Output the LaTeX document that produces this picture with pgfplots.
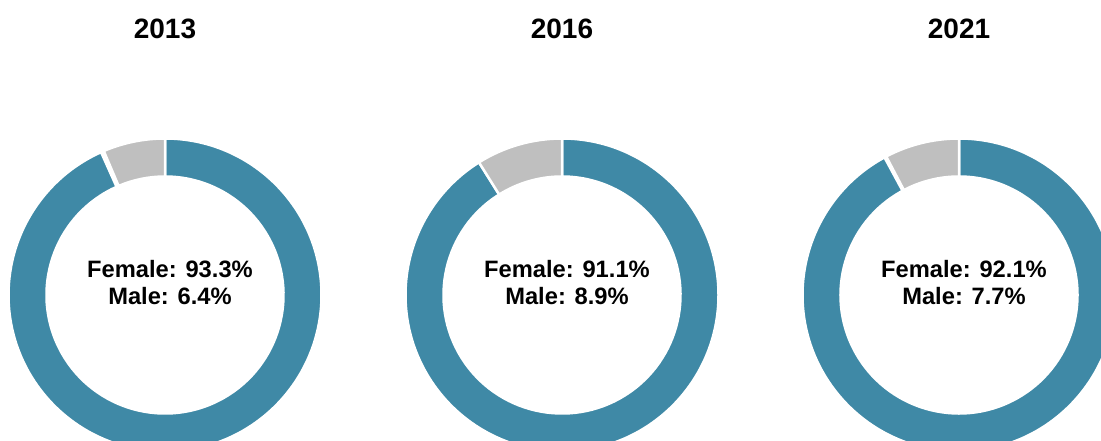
\documentclass[border=0pt]{standalone}
\usepackage{pgfplots}
\usepackage{pgfplotstable}
\pgfplotsset{compat=1.18}
\usepackage{fontspec}
\setmainfont{Liberation Sans}

\definecolor{femblue}{HTML}{3F89A6}
\definecolor{malegray}{HTML}{BFBFBF}

% share of female / male staff, one donut per year
\pgfplotstableread{
year female male cx
2013 93.3 6.4 165
2016 91.1 8.9 562
2021 92.1 7.7 959
}\donuts

% #1 centre x, #2 female, #3 male, #4 year
\newcommand\donut[4]{%
  \fill[femblue, draw=white, line width=2.5pt, shift={(axis cs:#1,146)}]
    (90:156.5pt) arc[start angle=90, end angle={90-3.6*#2}, radius=156.5pt]
    -- ({90-3.6*#2}:118.5pt) arc[start angle={90-3.6*#2}, end angle=90, radius=118.5pt] -- cycle;
  \fill[malegray, draw=white, line width=2.5pt, shift={(axis cs:#1,146)}]
    (90:156.5pt) arc[start angle=90, end angle={90+3.6*#3}, radius=156.5pt]
    -- ({90+3.6*#3}:118.5pt) arc[start angle={90+3.6*#3}, end angle=90, radius=118.5pt] -- cycle;
  \node[anchor=base, font=\fontsize{28}{32}\selectfont\bfseries] at (axis cs:#1,402) {#4};
  \node[anchor=base, font=\fontsize{23.7}{28}\selectfont\bfseries] at (axis cs:#1+5,163) {Female: #2\%};
  \node[anchor=base, font=\fontsize{23.7}{28}\selectfont\bfseries] at (axis cs:#1+5,136) {Male: #3\%};
}

\begin{document}
\begin{tikzpicture}
\begin{axis}[
    hide axis,
    x=1pt, y=1pt,
    xmin=0, xmax=1101,
    ymin=0, ymax=441,
    clip=true,
]
\addplot[draw=none] coordinates {(0,0) (1101,441)};
\pgfplotsforeachungrouped \i in {0,1,2}{%
  \pgfplotstablegetelem{\i}{year}\of\donuts \let\yr\pgfplotsretval
  \pgfplotstablegetelem{\i}{female}\of\donuts \let\fem\pgfplotsretval
  \pgfplotstablegetelem{\i}{male}\of\donuts \let\mal\pgfplotsretval
  \pgfplotstablegetelem{\i}{cx}\of\donuts \let\cx\pgfplotsretval
  \edef\next{\noexpand\donut{\cx}{\fem}{\mal}{\yr}}\next
}
\end{axis}
\pgfresetboundingbox
\path (current axis.south west) rectangle (current axis.north east);
\end{tikzpicture}
\end{document}
